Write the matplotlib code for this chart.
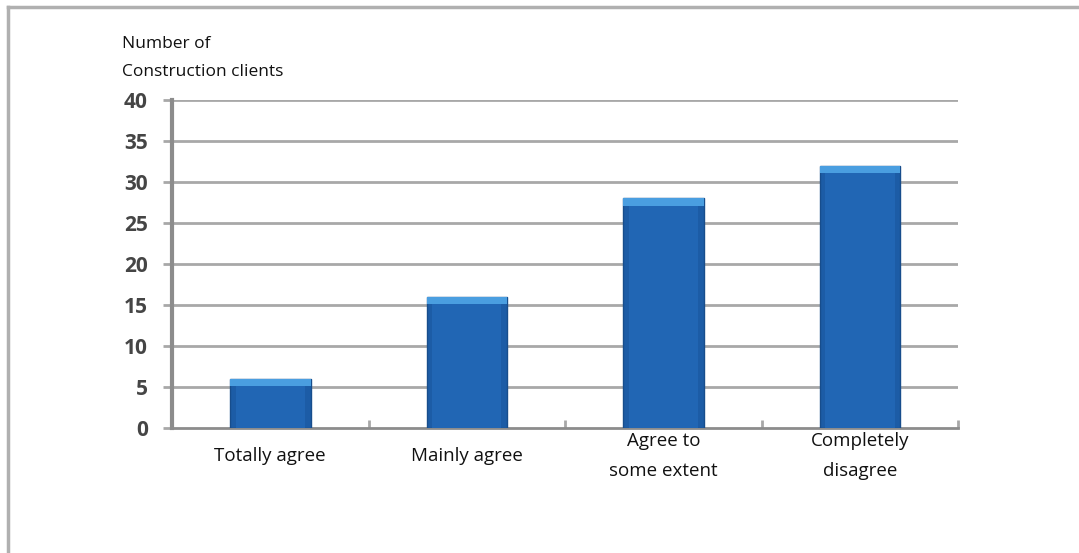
import matplotlib.pyplot as plt
import numpy as np

categories = ["Totally agree", "Mainly agree", "Agree to\nsome extent", "Completely\ndisagree"]
clients = [6, 16, 28, 32]
y_ticks = [0, 5, 10, 15, 20, 25, 30, 35, 40]

plt.rcParams['font.family'] = ['Open Sans', 'DejaVu Sans']

fig = plt.figure(figsize=(10.79, 5.53), dpi=100)
ax = fig.add_axes([0.1594, 0.226, 0.7286, 0.593])

x = np.arange(len(categories))
width = 0.41

# gridlines
for t in y_ticks[1:]:
    ax.axhline(t, color='#a8a8a8', linewidth=2, zorder=1)

# bars with a lighter bevelled top
ax.bar(x, clients, width, color='#1c5ca6', edgecolor='#174d8c', linewidth=1, zorder=3)
ax.bar(x, clients, width * 0.86, color='#2166b4', linewidth=0, zorder=3)
ax.bar(x, [0.9] * len(x), width, bottom=np.array(clients) - 0.9,
       color='#4a9ee0', linewidth=0, zorder=4)

ax.set_xlim(-0.5, len(categories) - 0.5)
ax.set_ylim(0, 40)
ax.set_yticks(y_ticks)
ax.set_yticklabels([str(t) for t in y_ticks], fontsize=15, fontweight='bold', color='#454545')
ax.tick_params(axis='y', length=6.5, width=2, color='#a8a8a8', pad=11)

ax.set_xticks(x)
ax.set_xticklabels(categories, fontsize=13.5, color='#111111', linespacing=1.85, va='center')
ax.tick_params(axis='x', length=0, pad=20)
ax.set_xticks(np.arange(len(categories)) + 0.5, minor=True)
ax.tick_params(axis='x', which='minor', direction='in', length=6, width=2, color='#a8a8a8')

for s in ['top', 'right']:
    ax.spines[s].set_visible(False)
ax.spines['left'].set_color('#8c8c8c')
ax.spines['left'].set_linewidth(3)
ax.spines['bottom'].set_color('#8c8c8c')
ax.spines['bottom'].set_linewidth(2)

fig.text(122 / 1079, 1 - 58 / 553, "Number of\nConstruction clients", ha='left', va='center',
         fontsize=12.5, color='#111111', linespacing=2.05)

# frame at top and left of the figure
fig.add_artist(plt.Line2D([8 / 1079, 1], [1 - 7 / 553, 1 - 7 / 553], color='#b0b0b0', linewidth=2.5))
fig.add_artist(plt.Line2D([8 / 1079, 8 / 1079], [0, 1 - 7 / 553], color='#b0b0b0', linewidth=2.5))

fig.savefig('out.png', dpi=100)
